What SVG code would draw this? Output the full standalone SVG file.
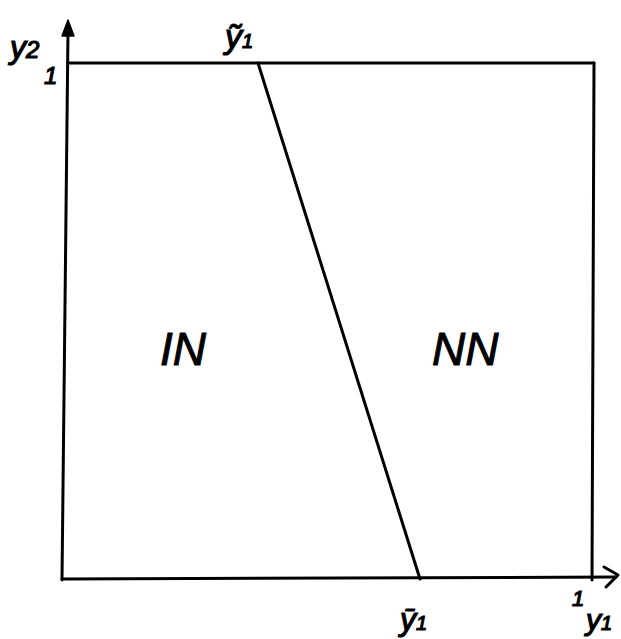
<svg xmlns="http://www.w3.org/2000/svg" width="621" height="639" viewBox="0 0 621 639">
<style>
.ln{stroke:#000;stroke-width:3;fill:none;stroke-linecap:round;stroke-linejoin:round}
.t{font-family:"Liberation Sans",Arial,sans-serif;font-style:italic;fill:#000;stroke:#000;stroke-width:1.2}
.big{font-family:"Liberation Sans",Arial,sans-serif;fill:#000;font-size:46px;font-style:italic;stroke:#000;stroke-width:1}
</style>
<rect width="621" height="639" fill="#fff"/>
<g id="connectors">
<path class="ln" d="M62,580 L68,30"/>
<path d="M68,20 L74,36 L62,36 Z" fill="#000" stroke="#000" stroke-width="1.5" stroke-linejoin="round"/>
<path class="ln" d="M68,63 L594,63"/>
<path class="ln" d="M594,63 L592,580"/>
<path class="ln" d="M62,579 L616,577"/>
<path class="ln" d="M604,567 L618,575 L606,587"/>
<path class="ln" d="M258,63 L420,579"/>
</g>
<g id="axis-y2"><text class="t" x="10" y="58" font-size="32">y<tspan font-size="24">2</tspan></text><text class="t" x="44" y="84" font-size="24">1</text></g>
<g id="tilde-y1"><text class="t" x="225" y="48" font-size="34">ỹ<tspan font-size="20">1</tspan></text></g>
<g id="bar-y1"><text class="t" x="400" y="630" font-size="32">ȳ<tspan font-size="20">1</tspan></text></g>
<g id="axis-y1"><text class="t" x="572" y="606" font-size="22">1</text><text class="t" x="586" y="630" font-size="30">y<tspan font-size="20">1</tspan></text></g>
<g id="IN"><text class="big" x="160" y="365">IN</text></g>
<g id="NN"><text class="big" x="432" y="365">NN</text></g>
</svg>
